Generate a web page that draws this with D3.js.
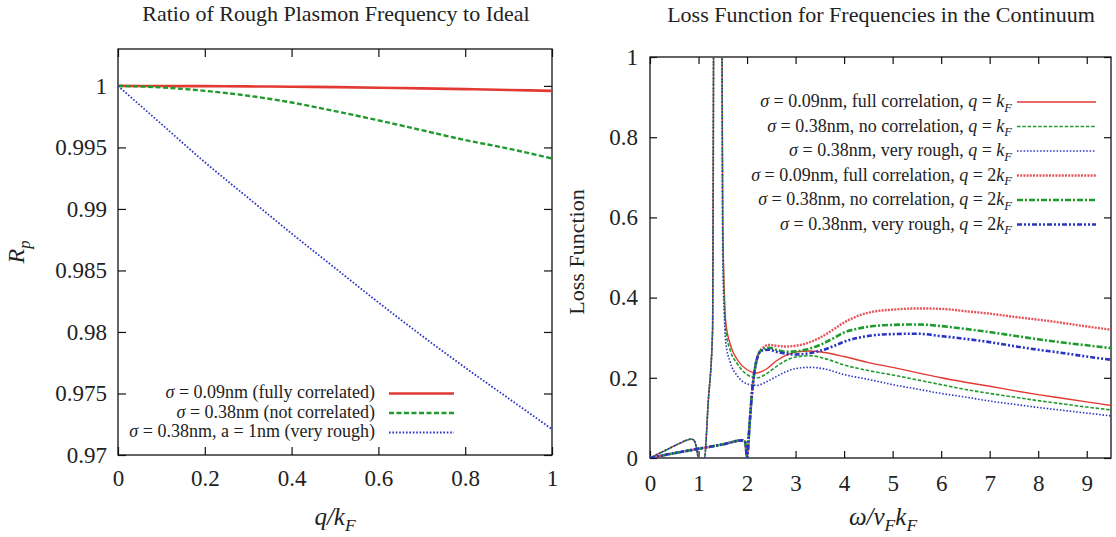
<!DOCTYPE html>
<html>
<head>
<meta charset="utf-8">
<script src="https://cdn.jsdelivr.net/npm/d3@7"></script>
<style>
  body { margin: 0; background: #fff; }
  svg text { font-family: "Liberation Serif", "DejaVu Serif", serif; fill: #222; }
</style>
</head>
<body>
<script>
// ---------------- data : left chart (ratio R_p vs q/k_F) ----------------
const qValues = [0, 0.1, 0.2, 0.3, 0.4, 0.5, 0.6, 0.7, 0.8, 0.9, 1.0]
const rpFull = [1, 0.99999, 0.99998, 0.99996, 0.99993, 0.9999, 0.99985, 0.9998, 0.99974, 0.99967, 0.9996]
const rpNoCorr = [1, 0.99988, 0.9996, 0.9992, 0.99865, 0.99795, 0.9972, 0.9964, 0.9956, 0.9949, 0.9941]
const rpRough = [1, 0.9969, 0.9938, 0.9909, 0.988, 0.9852, 0.9824, 0.9797, 0.9771, 0.9746, 0.9721]
const leftXTicks = [0, 0.2, 0.4, 0.6, 0.8, 1]
const leftYTicks = [0.97, 0.975, 0.98, 0.985, 0.99, 0.995, 1]

// ---------------- data : right chart (loss function vs w/vF kF) ----------------
const omegaKF = [0, 0.2, 0.4, 0.6, 0.75, 0.84, 0.9, 0.95, 1.0, 1.12, 1.2, 1.29, 1.32, 1.37, 1.43, 1.48, 1.5, 1.53, 1.56, 1.65, 1.8, 2.0, 2.2, 2.4, 2.6, 2.8, 3.0, 3.3, 3.6, 4.0, 4.5, 5.0, 5.5, 6.0, 6.5, 7.0, 7.5, 8.0, 8.5, 9.0, 9.5]
const lossFullKF = [0, 0.012, 0.024, 0.036, 0.044, 0.047, 0.045, 0.03, 0, 0, 0.14, 0.32, 1.5, 4, 4, 1.2, 0.6, 0.42, 0.34, 0.285, 0.245, 0.22, 0.212, 0.222, 0.242, 0.256, 0.264, 0.267, 0.263, 0.253, 0.238, 0.226, 0.213, 0.2, 0.189, 0.179, 0.168, 0.158, 0.149, 0.14, 0.131]
const lossNoCorrKF = [0, 0.012, 0.024, 0.036, 0.044, 0.047, 0.045, 0.03, 0, 0, 0.14, 0.32, 1.5, 4, 4, 1.15, 0.55, 0.4, 0.32, 0.27, 0.235, 0.208, 0.2, 0.21, 0.228, 0.243, 0.252, 0.255, 0.248, 0.232, 0.218, 0.207, 0.195, 0.183, 0.171, 0.161, 0.152, 0.143, 0.135, 0.127, 0.12]
const lossRoughKF = [0, 0.012, 0.024, 0.036, 0.044, 0.047, 0.045, 0.03, 0, 0, 0.14, 0.32, 1.5, 4, 4, 1.1, 0.5, 0.36, 0.29, 0.24, 0.205, 0.185, 0.181, 0.19, 0.203, 0.215, 0.223, 0.226, 0.222, 0.208, 0.196, 0.183, 0.172, 0.161, 0.152, 0.142, 0.134, 0.126, 0.119, 0.112, 0.105]

const omega2KF = [0, 0.5, 1.0, 1.5, 1.9, 1.96, 2.0, 2.05, 2.1, 2.2, 2.3, 2.45, 2.6, 2.8, 3.0, 3.2, 3.5, 3.8, 4.0, 4.3, 4.6, 5.0, 5.5, 6.0, 6.5, 7.0, 7.5, 8.0, 8.5, 9.0, 9.5]
const lossFull2KF = [0, 0.012, 0.023, 0.034, 0.044, 0.04, 0.002, 0.08, 0.16, 0.245, 0.272, 0.282, 0.28, 0.278, 0.28, 0.285, 0.3, 0.322, 0.338, 0.355, 0.365, 0.37, 0.373, 0.372, 0.366, 0.36, 0.352, 0.345, 0.337, 0.328, 0.32]
const lossNoCorr2KF = [0, 0.012, 0.023, 0.034, 0.044, 0.04, 0.002, 0.08, 0.16, 0.245, 0.27, 0.275, 0.27, 0.265, 0.266, 0.27, 0.282, 0.3, 0.313, 0.323, 0.329, 0.332, 0.333, 0.329, 0.322, 0.314, 0.305, 0.296, 0.288, 0.281, 0.274]
const lossRough2KF = [0, 0.012, 0.023, 0.034, 0.044, 0.04, 0.002, 0.08, 0.16, 0.245, 0.268, 0.27, 0.265, 0.26, 0.258, 0.26, 0.267, 0.28, 0.29, 0.3, 0.306, 0.309, 0.31, 0.304, 0.297, 0.289, 0.279, 0.27, 0.262, 0.253, 0.245]
const rightXTicks = [0, 1, 2, 3, 4, 5, 6, 7, 8, 9]
const rightYTicks = [0, 0.2, 0.4, 0.6, 0.8, 1]

//----------------------------------------------------------------------------------------------

const RED = "#e23a33", GREEN = "#1f9a2c", BLUE = "#2a34c4"
const SERIF = "Liberation Serif, DejaVu Serif, serif"

const svg = d3.select("body").append("svg")
    .attr("width", 1116)
    .attr("height", 537)
    .attr("font-family", SERIF)

// write text made of parts (italic / subscript)
function richText(sel, parts, size) {
    parts.forEach(p => {
        const ts = sel.append("tspan").text(p.t)
        if (p.i) ts.style("font-style", "italic")
        if (p.sub) ts.attr("font-size", size * 0.7).attr("dy", size * 0.25)
        else if (p.after) ts.attr("dy", -size * 0.25)
    })
}

function axes(g, x, y, w, h, xt, yt, tick, padX, padY) {
    const fmt = d3.format("~g")
    const bottom = g.append("g").attr("transform", `translate(0,${h})`)
        .call(d3.axisBottom(x).tickValues(xt).tickFormat(fmt).tickSizeInner(-tick).tickSizeOuter(0).tickPadding(padX))
    const top = g.append("g")
        .call(d3.axisTop(x).tickValues(xt).tickFormat("").tickSizeInner(-tick).tickSizeOuter(0))
    const left = g.append("g")
        .call(d3.axisLeft(y).tickValues(yt).tickFormat(fmt).tickSizeInner(-tick).tickSizeOuter(0).tickPadding(padY))
    const right = g.append("g").attr("transform", `translate(${w},0)`)
        .call(d3.axisRight(y).tickValues(yt).tickFormat("").tickSizeInner(-tick).tickSizeOuter(0))
    ;[bottom, top, left, right].forEach(a => {
        a.attr("font-family", SERIF).attr("font-size", 23)
        a.select(".domain").remove()
        a.selectAll("line").attr("stroke", "#111").attr("stroke-width", 1.2)
        a.selectAll("text").attr("fill", "#333")
    })
    g.append("rect").attr("width", w).attr("height", h)
        .attr("fill", "none").attr("stroke", "#111").attr("stroke-width", 1.3)
}

//------------------------------- left chart ----------------------------------------------------

const L = { x: 118, y: 49, w: 434, h: 406 }
const gL = svg.append("g").attr("transform", `translate(${L.x},${L.y})`)

const xL = d3.scaleLinear().domain([0, 1]).range([0, L.w])
const yL = d3.scaleLinear().domain([0.97, 1.003]).range([L.h, 0])

axes(gL, xL, yL, L.w, L.h, leftXTicks, leftYTicks, 8, 15, 11)

const leftSeries = [
    { values: rpFull, color: RED, width: 2.6, dash: null,
      label: [{ t: "σ", i: true }, { t: " = 0.09nm (fully correlated)" }] },
    { values: rpNoCorr, color: GREEN, width: 2.4, dash: "5,2.5",
      label: [{ t: "σ", i: true }, { t: " = 0.38nm (not correlated)" }] },
    { values: rpRough, color: BLUE, width: 1.8, dash: "1.6,1.8",
      label: [{ t: "σ", i: true }, { t: " = 0.38nm, a = 1nm (very rough)" }] }
]

const lineL = d3.line().x((d, i) => xL(qValues[i])).y(d => yL(d)).curve(d3.curveMonotoneX)

leftSeries.forEach((s, k) => {
    gL.append("path").datum(s.values)
        .attr("d", lineL)
        .attr("fill", "none")
        .attr("stroke", s.color)
        .attr("stroke-width", s.width)
        .attr("stroke-dasharray", s.dash)

    const ly = yL(0.975) + k * 19.5
    gL.append("line")
        .attr("x1", 271).attr("x2", 336).attr("y1", ly).attr("y2", ly)
        .attr("stroke", s.color).attr("stroke-width", s.width).attr("stroke-dasharray", s.dash)
    const t = gL.append("text").attr("x", 257).attr("y", ly + 5)
        .attr("text-anchor", "end").attr("font-size", 18)
    richText(t, s.label, 18)
})

svg.append("text").attr("x", 336).attr("y", 21).attr("text-anchor", "middle")
    .attr("font-size", 22).text("Ratio of Rough Plasmon Frequency to Ideal")

const xlabL = svg.append("text").attr("x", 335).attr("y", 525).attr("text-anchor", "middle").attr("font-size", 25)
richText(xlabL, [{ t: "q/k", i: true }, { t: "F", i: true, sub: true }], 25)

const ylabL = svg.append("text").attr("transform", `translate(24,${L.y + L.h / 2}) rotate(-90)`)
    .attr("text-anchor", "middle").attr("font-size", 24)
richText(ylabL, [{ t: "R", i: true }, { t: "p", i: true, sub: true }], 24)

//------------------------------- right chart ----------------------------------------------------

const R = { x: 650, y: 57, w: 461, h: 401 }
const gR = svg.append("g").attr("transform", `translate(${R.x},${R.y})`)

const xR = d3.scaleLinear().domain([0, 9.5]).range([0, R.w])
const yR = d3.scaleLinear().domain([0, 1]).range([R.h, 0])

axes(gR, xR, yR, R.w, R.h, rightXTicks, rightYTicks, 7, 17, 12)

gR.append("clipPath").attr("id", "clipR")
    .append("rect").attr("width", R.w).attr("height", R.h)

const kF = [{ t: "q", i: true }, { t: " = " }, { t: "k", i: true }, { t: "F", i: true, sub: true }]
const twoKF = [{ t: "q", i: true }, { t: " = 2" }, { t: "k", i: true }, { t: "F", i: true, sub: true }]

const rightSeries = [
    { x: omegaKF, values: lossFullKF, color: RED, width: 1.4, dash: null,
      label: [{ t: "σ", i: true }, { t: " = 0.09nm, full correlation, " }, ...kF] },
    { x: omegaKF, values: lossNoCorrKF, color: GREEN, width: 1.6, dash: "3.5,1.8",
      label: [{ t: "σ", i: true }, { t: " = 0.38nm, no correlation, " }, ...kF] },
    { x: omegaKF, values: lossRoughKF, color: BLUE, width: 1.6, dash: "1.5,1.8",
      label: [{ t: "σ", i: true }, { t: " = 0.38nm, very rough, " }, ...kF] },
    { x: omega2KF, values: lossFull2KF, color: "#e8545a", width: 2.4, dash: "2,1.2",
      label: [{ t: "σ", i: true }, { t: " = 0.09nm, full correlation, " }, ...twoKF] },
    { x: omega2KF, values: lossNoCorr2KF, color: GREEN, width: 2.6, dash: "6,2,2,2",
      label: [{ t: "σ", i: true }, { t: " = 0.38nm, no correlation, " }, ...twoKF] },
    { x: omega2KF, values: lossRough2KF, color: BLUE, width: 2.6, dash: "5,2,2,2,2,2",
      label: [{ t: "σ", i: true }, { t: " = 0.38nm, very rough, " }, ...twoKF] }
]

const plotR = gR.append("g").attr("clip-path", "url(#clipR)")

rightSeries.forEach((s, k) => {
    const line = d3.line().x((d, i) => xR(s.x[i])).y(d => yR(d)).curve(d3.curveMonotoneX)
    plotR.append("path").datum(s.values)
        .attr("d", line)
        .attr("fill", "none")
        .attr("stroke", s.color)
        .attr("stroke-width", s.width)
        .attr("stroke-dasharray", s.dash)

    const ly = 102 + k * 24.5 - R.y
    gR.append("line")
        .attr("x1", 367).attr("x2", 446).attr("y1", ly).attr("y2", ly)
        .attr("stroke", s.color).attr("stroke-width", s.width).attr("stroke-dasharray", s.dash)
    const t = gR.append("text").attr("x", 362).attr("y", ly + 5)
        .attr("text-anchor", "end").attr("font-size", 18)
    richText(t, s.label, 18)
})

svg.append("text").attr("x", 881).attr("y", 22).attr("text-anchor", "middle")
    .attr("font-size", 22).text("Loss Function for Frequencies in the Continuum")

const xlabR = svg.append("text").attr("x", 883).attr("y", 525).attr("text-anchor", "middle").attr("font-size", 25)
richText(xlabR, [{ t: "ω/v", i: true }, { t: "F", i: true, sub: true }, { t: "k", i: true, after: true },
    { t: "F", i: true, sub: true }], 25)

svg.append("text").attr("transform", `translate(584,252) rotate(-90)`)
    .attr("text-anchor", "middle").attr("font-size", 22).text("Loss Function")
</script>
</body>
</html>
